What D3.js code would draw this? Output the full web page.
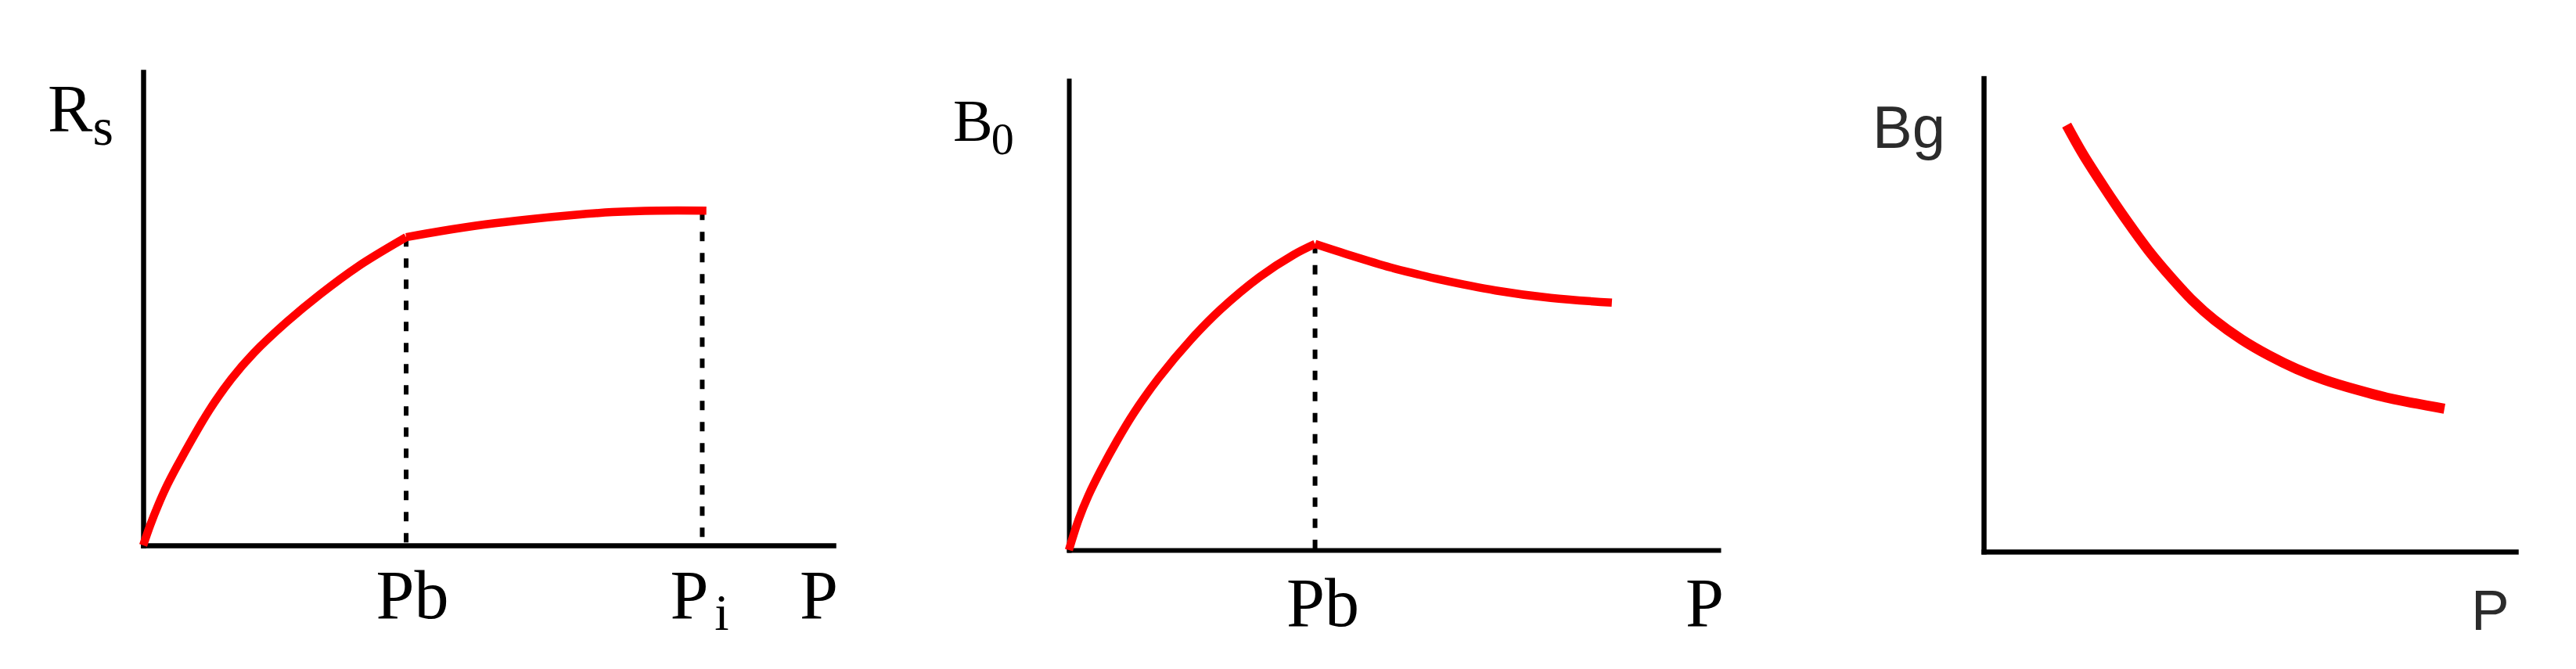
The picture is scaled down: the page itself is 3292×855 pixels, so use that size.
<!DOCTYPE html>
<html>
<head>
<meta charset="utf-8">
<script src="https://cdn.jsdelivr.net/npm/d3@7"></script>
<style>
  html, body { margin: 0; padding: 0; background: #fff; }
  svg { display: block; }
</style>
</head>
<body>
<svg id="chart" width="3292" height="855"></svg>
<script>
// ---------------- DATA ----------------
// Panel 1: solution gas-oil ratio Rs vs pressure P (arbitrary units 0-100)
const rsBelowPb = [[0,0],[1,4.2],[2.2,8.6],[3.5,12.8],[5.5,18.3],[9.6,28.6],[12.8,35.2],[16,40.6],[20.8,47.2],[25.6,53],[31.2,59],[38.1,65.1]];
const rsAbovePb = [[38.1,65.1],[43.2,66.4],[49.6,67.8],[56,68.9],[62.4,69.8],[68,70.4],[74.5,70.7],[81.6,70.7]];
const rsMarks = [38.1, 81];            // Pb, Pi
// Panel 2: oil formation volume factor Bo vs P
const boBelowPb = [[0,0],[1.5,6.5],[3,11.6],[5,17.2],[7.5,23.5],[10,29.2],[13.8,36.6],[18.9,45],[23.4,51.3],[29.4,58.2],[34.6,62.9],[37.9,65.2]];
const boAbovePb = [[37.9,65.2],[43.5,62.7],[49.5,60.2],[53.5,58.8],[57.2,57.6],[65.7,55.3],[74.2,53.7],[83.6,52.7]];
const boMarks = [37.9];                // Pb
// Panel 3: gas formation volume factor Bg vs P
const bgCurve = [[15.6,90.1],[18.7,83.9],[22.8,76.7],[26.9,69.9],[31,63.6],[35.1,58.1],[39.3,53],[43.4,48.9],[48.5,44.8],[53.7,41.4],[58.8,38.6],[64,36.3],[70.1,34.2],[76.3,32.4],[86.6,30.2]];
// Labels
const rsYLabel = ["R", "s"];
const boYLabel = ["B", "0"];
const bgYLabel = "Bg";
const xLabel = "P";
const pbLabel = "Pb";
const piLabel = ["P", "i"];

// ---------------- LAYOUT ----------------
const svg = d3.select("#chart");
svg.append("rect").attr("width", 3292).attr("height", 855).attr("fill", "#fff");

const RED = "#ff0000";
const SERIF = "'Liberation Serif', 'DejaVu Serif', serif";
const SANS = "'Liberation Sans', Arial, sans-serif";

function makePanel(box, axisW) {
  const x = d3.scaleLinear().domain([0, 100]).range([box.left, box.right]);
  const y = d3.scaleLinear().domain([0, 100]).range([box.bottom, box.top]);
  const g = svg.append("g");
  const xa = g.append("g").attr("transform", `translate(0,${y(0)})`)
    .call(d3.axisBottom(x).tickValues([]).tickSizeOuter(0));
  const ya = g.append("g").attr("transform", `translate(${x(0)},0)`)
    .call(d3.axisLeft(y).tickValues([]).tickSizeOuter(0));
  [xa, ya].forEach(a => a.select(".domain").attr("stroke", "#000")
    .style("stroke-width", axisW + "px").attr("stroke-linecap", "square"));
  return {x, y, g};
}

function drawCurve(p, data, w) {
  const line = d3.line().x(d => p.x(d[0])).y(d => p.y(d[1])).curve(d3.curveCatmullRom.alpha(0.5));
  p.g.append("path").attr("d", line(data)).attr("fill", "none")
    .attr("stroke", RED).style("stroke-width", w + "px").attr("stroke-linejoin", "round");
}

function drawDrop(p, xv, data) {
  // vertical dashed line from the curve to the x axis
  let yv = null;
  for (let i = 0; i < data.length - 1; i++) {
    if (xv >= data[i][0] && xv <= data[i+1][0]) {
      const t = (xv - data[i][0]) / (data[i+1][0] - data[i][0]);
      yv = data[i][1] + t * (data[i+1][1] - data[i][1]);
    }
  }
  if (yv === null) yv = data[data.length-1][1];
  p.g.append("line")
    .attr("x1", p.x(xv)).attr("x2", p.x(xv))
    .attr("y1", p.y(yv)).attr("y2", p.y(0))
    .attr("stroke", "#000").style("stroke-width", "6px")
    .attr("stroke-dasharray", "12,15");
}

// ---------- Panel 1 ----------
const p1 = makePanel({left: 183, right: 1065, top: 92, bottom: 697}, 6.5);
drawDrop(p1, rsMarks[0], rsBelowPb);
drawDrop(p1, rsMarks[1], rsAbovePb);
drawCurve(p1, rsBelowPb, 10.5);
drawCurve(p1, rsAbovePb, 10.5);

const t1 = p1.g.append("text").attr("x", 61).attr("y", 168)
  .attr("font-family", SERIF).attr("font-size", 86).attr("fill", "#000");
t1.append("tspan").text(rsYLabel[0]);
t1.append("tspan").attr("font-size", 68).attr("dy", 17).text(rsYLabel[1]);

p1.g.append("text").attr("x", p1.x(rsMarks[0]) + 8).attr("y", p1.y(0) + 93)
  .attr("text-anchor", "middle").attr("font-family", SERIF).attr("font-size", 88)
  .attr("fill", "#000").text(pbLabel);

const tpi = p1.g.append("text").attr("x", p1.x(rsMarks[1]) - 41).attr("y", p1.y(0) + 93)
  .attr("font-family", SERIF).attr("font-size", 88).attr("fill", "#000");
tpi.append("tspan").text(piLabel[0]);
tpi.append("tspan").attr("font-size", 66).attr("dx", 8).attr("dy", 15).text(piLabel[1]);

p1.g.append("text").attr("x", 1022).attr("y", p1.y(0) + 93)
  .attr("font-family", SERIF).attr("font-size", 88).attr("fill", "#000").text(xLabel);

// ---------- Panel 2 ----------
const p2 = makePanel({left: 1366, right: 2196, top: 103, bottom: 703}, 6);
drawDrop(p2, boMarks[0], boBelowPb);
drawCurve(p2, boBelowPb, 10.5);
drawCurve(p2, boAbovePb, 10.5);

const t2 = p2.g.append("text").attr("x", 1218).attr("y", 180)
  .attr("font-family", SERIF).attr("font-size", 76).attr("fill", "#000");
t2.append("tspan").text(boYLabel[0]);
t2.append("tspan").attr("font-size", 58).attr("dx", -2).attr("dy", 17).text(boYLabel[1]);

p2.g.append("text").attr("x", p2.x(boMarks[0]) + 10).attr("y", p2.y(0) + 97)
  .attr("text-anchor", "middle").attr("font-family", SERIF).attr("font-size", 88)
  .attr("fill", "#000").text(pbLabel);

p2.g.append("text").attr("x", 2154).attr("y", p2.y(0) + 97)
  .attr("font-family", SERIF).attr("font-size", 88).attr("fill", "#000").text(xLabel);

// ---------- Panel 3 ----------
const p3 = makePanel({left: 2535, right: 3215, top: 100, bottom: 705}, 6.5);
drawCurve(p3, bgCurve, 13);

p3.g.append("text").attr("x", 2393).attr("y", 189)
  .attr("font-family", SANS).attr("font-size", 76).attr("fill", "#2b2b2b").text(bgYLabel);
p3.g.append("text").attr("x", 3158).attr("y", 805)
  .attr("font-family", SANS).attr("font-size", 73).attr("fill", "#2b2b2b").text(xLabel);
</script>
</body>
</html>
